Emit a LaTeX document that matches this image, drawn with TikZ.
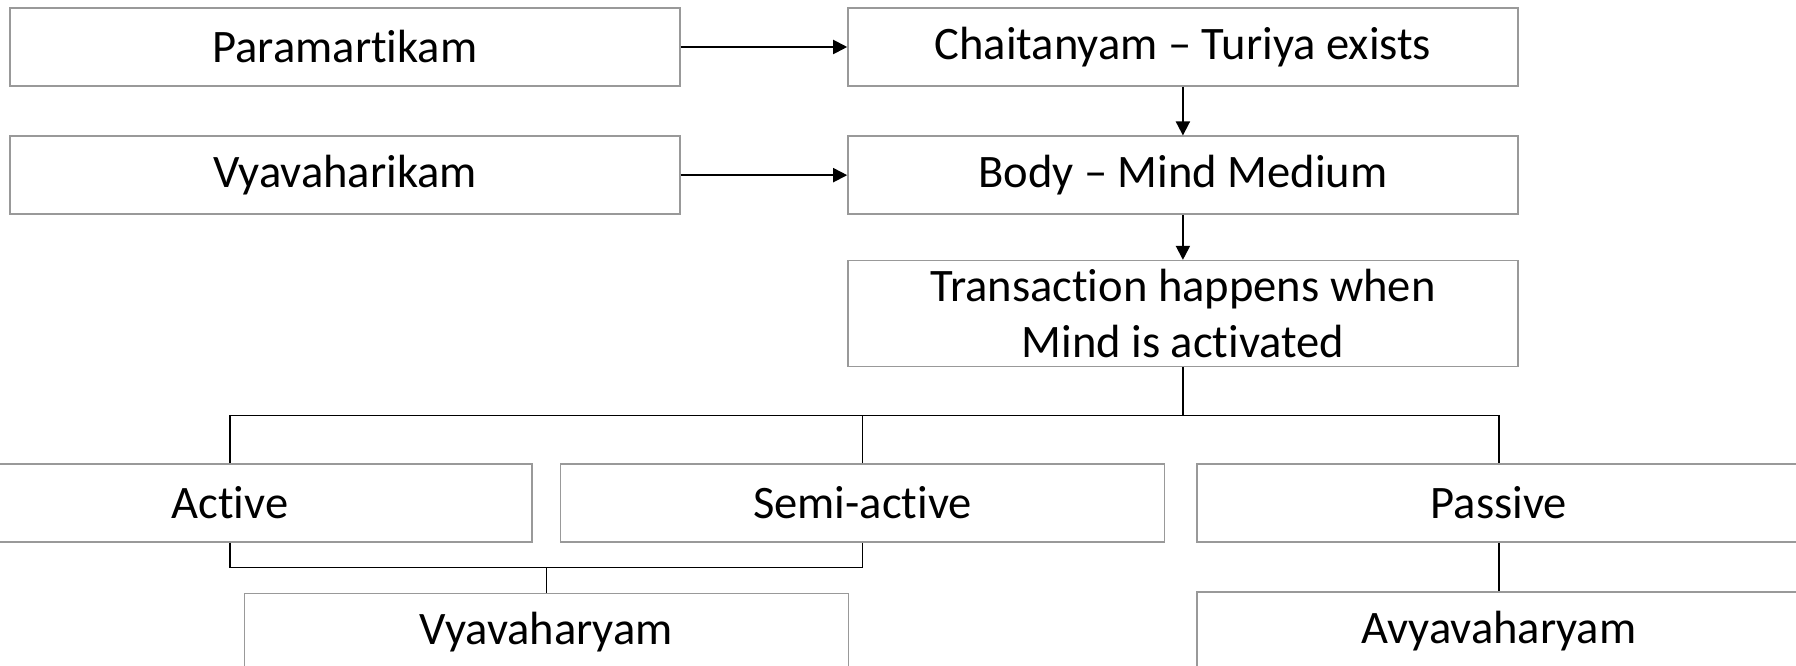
\documentclass[tikz,border=0pt]{standalone}
\usepackage{fontspec}
\setmainfont{Carlito}[Ligatures=NoCommon]
\usetikzlibrary{positioning, arrows.meta, calc}

\begin{document}
\begin{tikzpicture}[
    node distance=0.975cm,
    box/.style={rectangle, draw=black!40, line width=0.8pt, minimum width=13.4cm, minimum height=1.56cm, inner sep=0.1cm, align=center, font=\fontsize{26.5}{32}\selectfont},
    sub/.style={box, minimum width=12.08cm},
    arrow/.style={-{Triangle[length=0.28cm, width=0.28cm]}, line width=1.1pt},
    line/.style={line width=0.8pt},
]

    % page frame, boxes at the edges get cut off
    \path[use as bounding box, clip] (0,0) rectangle (35.92,-13.32);

%% NODES
    % the two levels of reality
    \node[box] (paramartikam) at (6.9,-0.94) {Paramartikam};
    \node[box, below=of paramartikam] (vyavaharikam) {Vyavaharikam};

    % what each level stands for
    \node[box, right=3.33cm of paramartikam] (chaitanyam) {Chaitanyam -- Turiya exists};
    \node[box, below=of chaitanyam] (body) {Body -- Mind Medium};
    \node[box, below=0.9cm of body, minimum height=2.12cm] (transaction) {Transaction happens when\\Mind is activated};

    % states of the mind
    \node[sub, below=1.92cm of transaction, xshift=-6.41cm] (semiactive) {Semi-active};
    \node[sub, left=0.54cm of semiactive] (active) {Active};
    \node[sub, right=0.62cm of semiactive] (passive) {Passive};

    % results
    \node[sub, anchor=north] (vyavaharyam) at ($(active.south)!0.5!(semiactive.south)+(0,-1.0)$) {Vyavaharyam};
    \node[sub, below=of passive] (avyavaharyam) {Avyavaharyam};

%% CONNECTIONS
    \draw[arrow] (paramartikam) -- (chaitanyam);
    \draw[arrow] (vyavaharikam) -- (body);
    \draw[arrow] (chaitanyam) -- (body);
    \draw[arrow] (body) -- (transaction);

    % split into the three states
    \coordinate (fork) at ($(transaction.south)+(0,-0.96)$);
    \draw[line] (transaction.south) -- (fork);
    \draw[line] (active.north) |- (fork) -| (passive.north);
    \draw[line] (semiactive.north) -- (semiactive.north |- fork);

    % active + semi-active -> vyavaharyam
    \coordinate (join) at ($(active.south)+(0,-0.5)$);
    \draw[line] (active.south) -- (join) -| (semiactive.south);
    \draw[line] (vyavaharyam.north) -- (vyavaharyam.north |- join);

    % passive -> avyavaharyam
    \draw[line] (passive) -- (avyavaharyam);

\end{tikzpicture}
\end{document}
